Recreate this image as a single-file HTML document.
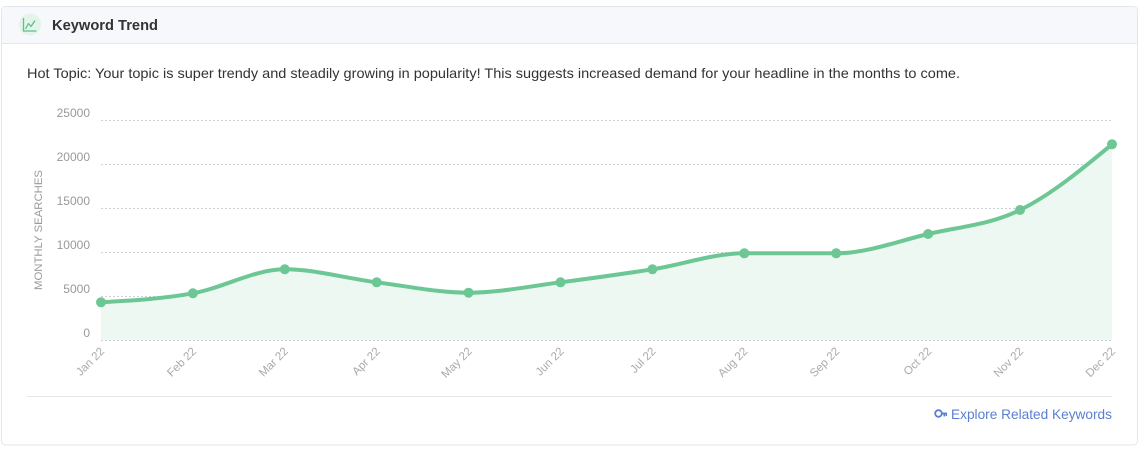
<!DOCTYPE html>
<html>
<head>
<meta charset="utf-8">
<style>
html,body{margin:0;padding:0;background:#fff;}
body{width:1145px;height:462px;overflow:hidden;font-family:"Liberation Sans",sans-serif;}
svg{display:block;}
</style>
</head>
<body>
<svg width="1145" height="462" viewBox="0 0 1145 462" xmlns="http://www.w3.org/2000/svg" font-family="Liberation Sans, sans-serif">
  <!-- card -->
  <rect x="1.5" y="6.5" width="1136" height="438.5" rx="4" ry="4" fill="#fff" stroke="#e3e5ea" stroke-width="1"/>
  <path d="M2 43 L2 10.5 Q2 7 5.5 7 L1133.5 7 Q1137 7 1137 10.5 L1137 43 Z" fill="#f7f8fb"/>
  <line x1="2" y1="43.5" x2="1137" y2="43.5" stroke="#e6e8ee" stroke-width="1"/>

  <!-- header icon -->
  <circle cx="30" cy="24.5" r="11" fill="#e4f4ea"/>
  <path d="M23.5 18 L23.5 31 L36.5 31" fill="none" stroke="#5cc08a" stroke-width="1.3"/>
  <path d="M25.5 29 L28.5 23.5 L31 26.5 L35 20.5" fill="none" stroke="#5cc08a" stroke-width="1.3" stroke-linejoin="round"/>
  <text x="52" y="30" font-size="15" font-weight="bold" fill="#333" textLength="106" lengthAdjust="spacingAndGlyphs">Keyword Trend</text>

  <!-- description -->
  <text x="27" y="78" font-size="14" fill="#333" textLength="933" lengthAdjust="spacingAndGlyphs">Hot Topic: Your topic is super trendy and steadily growing in popularity! This suggests increased demand for your headline in the months to come.</text>

  <!-- gridlines -->
  <g stroke="#cfd1d4" stroke-width="1" stroke-dasharray="2,2">
    <line x1="101" y1="120.5" x2="1112" y2="120.5"/>
    <line x1="101" y1="164.5" x2="1112" y2="164.5"/>
    <line x1="101" y1="208.5" x2="1112" y2="208.5"/>
    <line x1="101" y1="252.5" x2="1112" y2="252.5"/>
    <line x1="101" y1="296.5" x2="1112" y2="296.5"/>
    <line x1="101" y1="340.5" x2="1112" y2="340.5"/>
  </g>

  <!-- y tick labels -->
  <g font-size="12" fill="#999" text-anchor="end">
    <text x="90" y="117">25000</text>
    <text x="90" y="161">20000</text>
    <text x="90" y="205">15000</text>
    <text x="90" y="249">10000</text>
    <text x="90" y="293">5000</text>
    <text x="90" y="337">0</text>
  </g>

  <!-- y axis title -->
  <text transform="translate(42,230) rotate(-90)" font-size="11" fill="#9a9a9a" text-anchor="middle" textLength="120" lengthAdjust="spacingAndGlyphs">MONTHLY SEARCHES</text>

  <!-- area fill -->
  <path d="M101 302.3 C131.63 300.55 162.27 298.8 192.9 293.3 C223.53 287.8 254.17 269.3 284.8 269.3 C315.43 269.3 346.07 278.4 376.7 282.3 C407.33 286.2 437.97 292.7 468.6 292.7 C499.23 292.7 529.87 286.2 560.5 282.3 C591.13 278.4 621.77 274.13 652.4 269.3 C683.03 264.47 713.67 253.3 744.3 253.3 C774.93 253.3 805.57 253.3 836.2 253.3 C866.83 253.3 897.47 241.22 928.1 234 C958.73 226.78 989.37 224.95 1020 210 C1050.63 195.05 1081.37 169.68 1112 144.3 L1112 340 L101 340 Z" fill="#eef8f2"/>

  <!-- line -->
  <path d="M101 302.3 C131.63 300.55 162.27 298.8 192.9 293.3 C223.53 287.8 254.17 269.3 284.8 269.3 C315.43 269.3 346.07 278.4 376.7 282.3 C407.33 286.2 437.97 292.7 468.6 292.7 C499.23 292.7 529.87 286.2 560.5 282.3 C591.13 278.4 621.77 274.13 652.4 269.3 C683.03 264.47 713.67 253.3 744.3 253.3 C774.93 253.3 805.57 253.3 836.2 253.3 C866.83 253.3 897.47 241.22 928.1 234 C958.73 226.78 989.37 224.95 1020 210 C1050.63 195.05 1081.37 169.68 1112 144.3" fill="none" stroke="#6cc794" stroke-width="4" stroke-linecap="round" stroke-linejoin="round"/>

  <!-- points -->
  <g fill="#6cc794">
    <circle cx="101" cy="302.3" r="5"/>
    <circle cx="192.9" cy="293.3" r="5"/>
    <circle cx="284.8" cy="269.3" r="5"/>
    <circle cx="376.7" cy="282.3" r="5"/>
    <circle cx="468.6" cy="292.7" r="5"/>
    <circle cx="560.5" cy="282.3" r="5"/>
    <circle cx="652.4" cy="269.3" r="5"/>
    <circle cx="744.3" cy="253.3" r="5"/>
    <circle cx="836.2" cy="253.3" r="5"/>
    <circle cx="928.1" cy="234" r="5"/>
    <circle cx="1020" cy="210" r="5"/>
    <circle cx="1112" cy="144.3" r="5"/>
  </g>

  <!-- x labels -->
  <g font-size="11.5" fill="#aaa" text-anchor="end">
    <text transform="translate(105,352) rotate(-45)">Jan 22</text>
    <text transform="translate(196.9,352) rotate(-45)">Feb 22</text>
    <text transform="translate(288.8,352) rotate(-45)">Mar 22</text>
    <text transform="translate(380.7,352) rotate(-45)">Apr 22</text>
    <text transform="translate(472.6,352) rotate(-45)">May 22</text>
    <text transform="translate(564.5,352) rotate(-45)">Jun 22</text>
    <text transform="translate(656.4,352) rotate(-45)">Jul 22</text>
    <text transform="translate(748.3,352) rotate(-45)">Aug 22</text>
    <text transform="translate(840.2,352) rotate(-45)">Sep 22</text>
    <text transform="translate(932.1,352) rotate(-45)">Oct 22</text>
    <text transform="translate(1024,352) rotate(-45)">Nov 22</text>
    <text transform="translate(1116,352) rotate(-45)">Dec 22</text>
  </g>

  <!-- separator -->
  <line x1="27" y1="396.5" x2="1112" y2="396.5" stroke="#e5e7eb" stroke-width="1"/>

  <!-- key icon -->
  <g fill="#5b7fd1">
    <circle cx="938.5" cy="413.5" r="3.3" fill="none" stroke="#5b7fd1" stroke-width="1.8"/>
    <rect x="941" y="412.6" width="6" height="1.8"/>
    <rect x="943.5" y="413" width="1.5" height="3.5"/>
    <rect x="945.5" y="413" width="1.5" height="3"/>
  </g>
  <text x="951" y="419" font-size="14" fill="#5b7fd1" textLength="161" lengthAdjust="spacingAndGlyphs">Explore Related Keywords</text>
</svg>
</body>
</html>
